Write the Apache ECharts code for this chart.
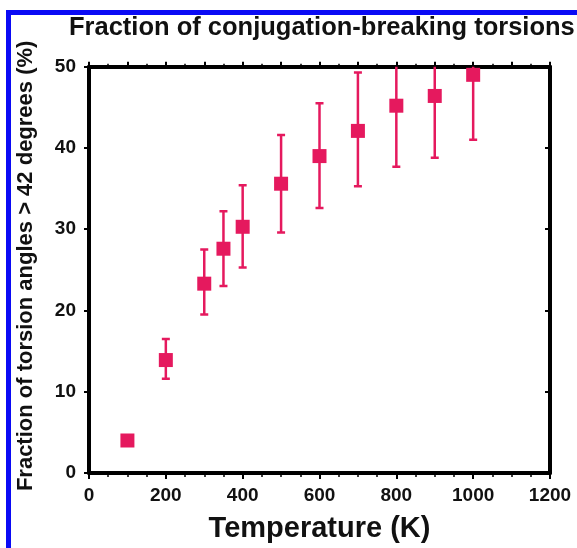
<!DOCTYPE html>
<html>
<head>
<meta charset="utf-8">
<script src="https://cdn.jsdelivr.net/npm/echarts@6/dist/echarts.min.js"></script>
<style>
html,body{margin:0;padding:0;background:#fff;}
#c{width:577px;height:548px;}
</style>
</head>
<body>
<div id="c"></div>
<script>
var temperatures = [100, 200, 300, 350, 400, 500, 600, 700, 800, 900, 1000];
var fraction = [4.0, 13.9, 23.3, 27.6, 30.3, 35.6, 39.0, 42.1, 45.2, 46.4, 49.0];
var errLow = [3.6, 11.6, 19.5, 23.0, 25.3, 29.6, 32.6, 35.3, 37.7, 38.8, 41.0];
var errHigh = [4.4, 16.5, 27.5, 32.2, 35.4, 41.6, 45.5, 49.3, 52.7, 54.0, 57.0];
var xTicks = [0, 200, 400, 600, 800, 1000, 1200];
var yTicks = [0, 10, 20, 30, 40, 50];

var FONT = "'Liberation Sans', Arial, sans-serif";
var RED = '#E5195E';

var points = temperatures.map(function (t, i) { return [t, fraction[i]]; });
var bars = temperatures.map(function (t, i) { return [t, errLow[i], errHigh[i]]; });

var chart = echarts.init(document.getElementById('c'), null, {renderer: 'canvas'});
chart.setOption({
  animation: false,
  backgroundColor: '#fff',
  graphic: [{
    type: 'rect',
    shape: {x: 8.5, y: 12.5, width: 800, height: 800},
    style: {fill: 'none', stroke: '#0A0AF5', lineWidth: 5},
    z: 100
  }],
  title: {
    text: 'Fraction of conjugation-breaking torsions',
    left: 69, top: 15,
    padding: 0,
    textStyle: {fontFamily: FONT, fontWeight: 'bold', fontSize: 25.5, color: '#111'}
  },
  grid: {left: 89, right: 27, top: 66.7, bottom: 71.3, containLabel: false},
  xAxis: [{
    type: 'value', position: 'bottom',
    min: xTicks[0], max: xTicks[xTicks.length - 1], interval: 200,
    name: 'Temperature (K)', nameLocation: 'middle', nameGap: 41,
    nameTextStyle: {fontFamily: FONT, fontWeight: 'bold', fontSize: 29, color: '#111'},
    axisLine: {show: true, onZero: false, lineStyle: {color: '#000', width: 4}},
    axisTick: {show: true, inside: false, length: 6, lineStyle: {color: '#000', width: 2}},
    minorTick: {show: true, splitNumber: 4, length: 4, lineStyle: {color: '#000', width: 1.5}},
    axisLabel: {margin: 13, fontFamily: FONT, fontWeight: 'bold', fontSize: 19, color: '#111',
      formatter: function (v) { return String(v); }},
    splitLine: {show: false}
  }, {
    type: 'value', position: 'top',
    min: xTicks[0], max: xTicks[xTicks.length - 1], interval: 100,
    axisLine: {show: true, onZero: false, lineStyle: {color: '#000', width: 4}},
    axisTick: {show: true, inside: false, length: 5, lineStyle: {color: '#000', width: 2}},
    minorTick: {show: true, splitNumber: 2, length: 3, lineStyle: {color: '#000', width: 1.5}},
    axisLabel: {show: false},
    splitLine: {show: false}
  }],
  yAxis: [{
    type: 'value', position: 'left',
    min: yTicks[0], max: yTicks[yTicks.length - 1], interval: 10,
    name: 'Fraction of torsion angles > 42 degrees (%)', nameLocation: 'middle', nameGap: 52,
    nameTextStyle: {fontFamily: FONT, fontWeight: 'bold', fontSize: 22, color: '#111', padding: [0, 0, 0, 8]},
    axisLine: {show: true, onZero: false, lineStyle: {color: '#000', width: 4}},
    axisTick: {show: true, inside: false, length: 5, lineStyle: {color: '#000', width: 2}},
    axisLabel: {margin: 13, fontFamily: FONT, fontWeight: 'bold', fontSize: 19, color: '#111',
      formatter: function (v) { return String(v); }},
    splitLine: {show: false}
  }, {
    type: 'value', position: 'right',
    min: yTicks[0], max: yTicks[yTicks.length - 1], interval: 10,
    axisLine: {show: true, onZero: false, lineStyle: {color: '#000', width: 4}},
    axisTick: {show: true, inside: true, length: 5, lineStyle: {color: '#000', width: 2}},
    axisLabel: {show: false},
    splitLine: {show: false}
  }],
  series: [{
    type: 'custom',
    xAxisIndex: 0, yAxisIndex: 0,
    clip: true,
    data: bars,
    renderItem: function (params, api) {
      var x = api.value(0);
      var lo = api.coord([x, api.value(1)]);
      var hi = api.coord([x, api.value(2)]);
      var hw = 4;
      var st = {stroke: RED, lineWidth: 2.5, fill: null};
      return {
        type: 'group',
        children: [
          {type: 'line', shape: {x1: lo[0], y1: lo[1], x2: hi[0], y2: hi[1]}, style: st},
          {type: 'line', shape: {x1: lo[0] - hw, y1: lo[1], x2: lo[0] + hw, y2: lo[1]}, style: st},
          {type: 'line', shape: {x1: hi[0] - hw, y1: hi[1], x2: hi[0] + hw, y2: hi[1]}, style: st}
        ]
      };
    },
    z: 3
  }, {
    type: 'scatter',
    xAxisIndex: 0, yAxisIndex: 0,
    data: points,
    symbol: 'rect',
    symbolSize: 14,
    itemStyle: {color: RED, opacity: 1},
    z: 4
  }]
});
</script>
</body>
</html>
